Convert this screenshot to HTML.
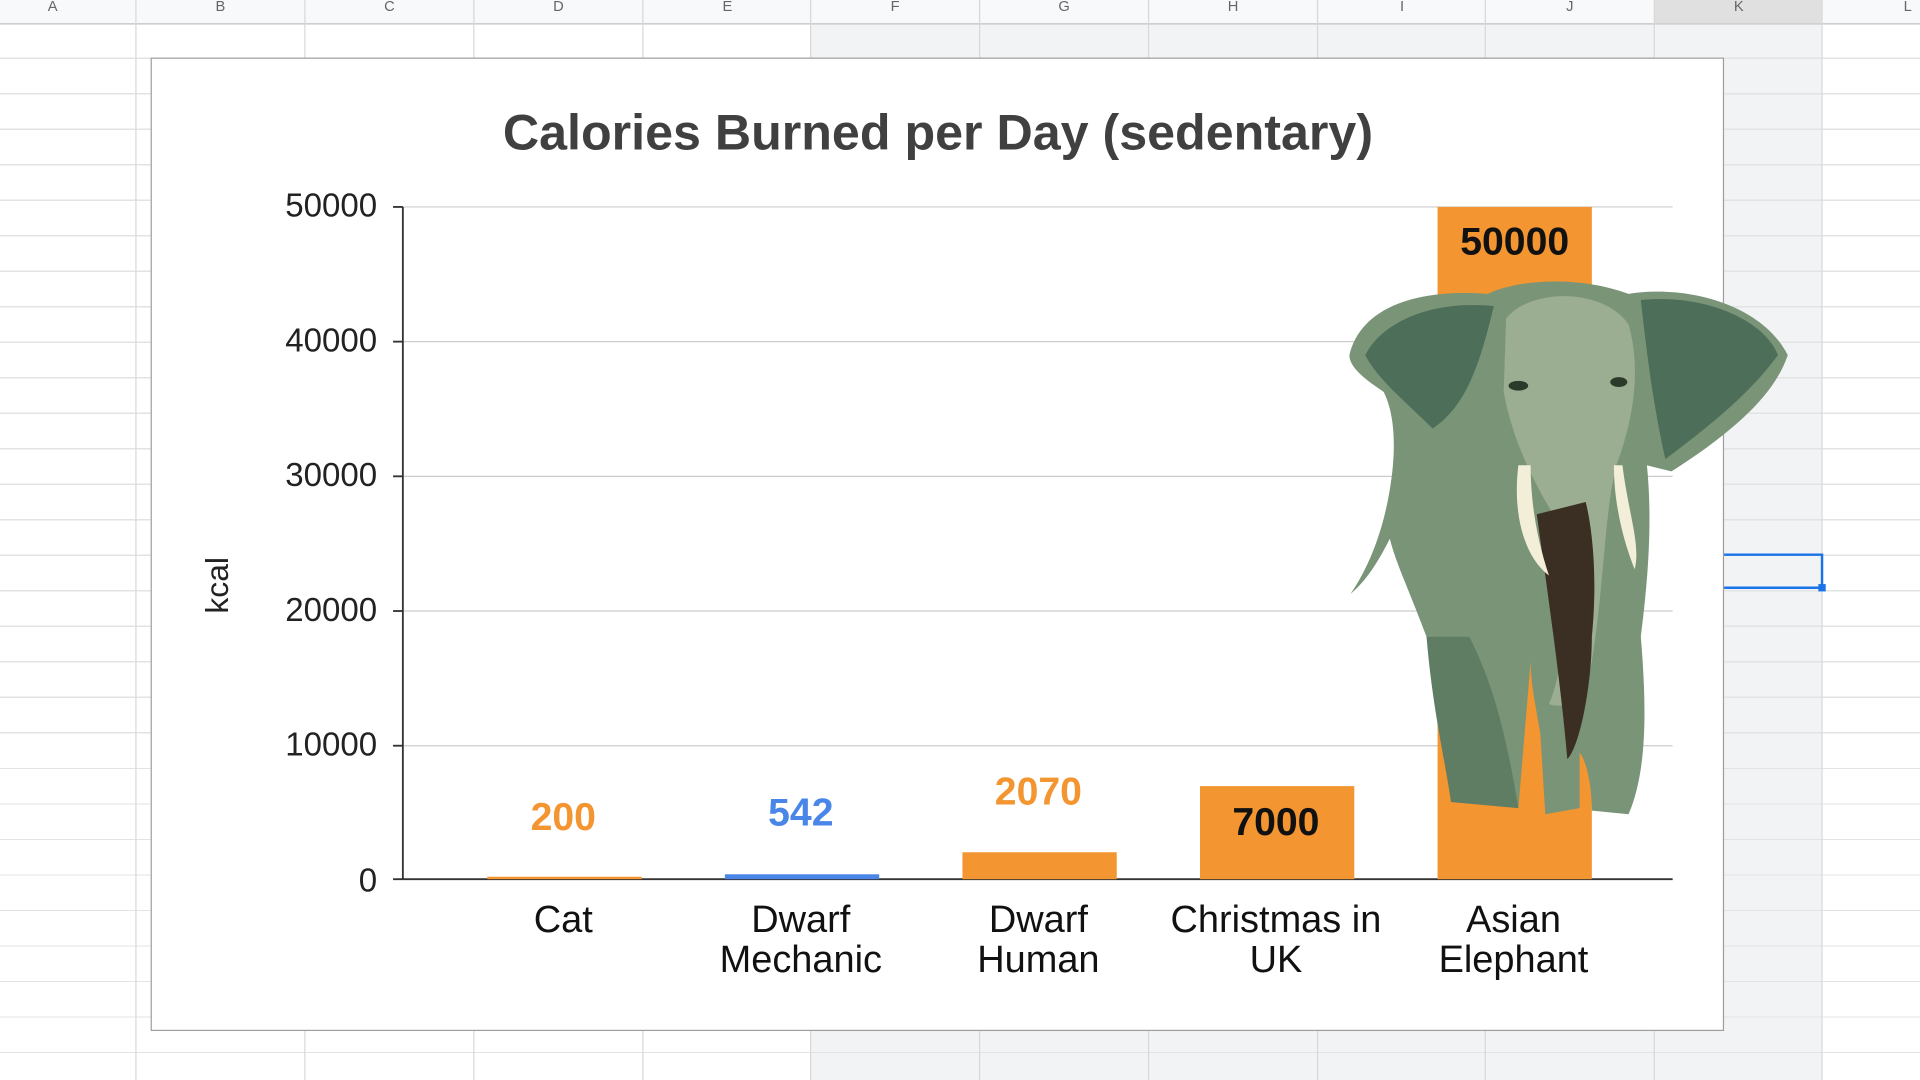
<!DOCTYPE html>
<html><head><meta charset="utf-8"><style>
html,body{margin:0;padding:0;width:1920px;height:1080px;overflow:hidden;background:#fff;font-family:"Liberation Sans",Arial,sans-serif;}
#w{position:absolute;left:0;top:0;width:1568px;height:882px;transform:scale(1.22449);transform-origin:0 0;}
.abs{position:absolute;}
</style></head><body><div id="w">
<div class="abs" style="left:662px;top:19px;width:826px;height:863px;background:#f1f3f4"></div>
<div class="abs" style="left:0;top:19px;width:1568px;height:863px;background:repeating-linear-gradient(to bottom,transparent 0,transparent 28px,#e2e3e3 28px,#e2e3e3 29px)"></div>
<div class="abs" style="left:0;top:0;width:1568px;height:19px;background:#f8f9fa;border-bottom:1px solid #c0c0c0"></div>
<div class="abs" style="left:1351px;top:0;width:137px;height:19px;background:#e0e0e0"></div>
<svg class="abs" style="left:0;top:0" width="1568" height="882">
<g stroke="#d8d8d8" stroke-width="1">
<line x1="111" y1="0" x2="111" y2="882"/><line x1="249" y1="0" x2="249" y2="882"/><line x1="387" y1="0" x2="387" y2="882"/><line x1="525" y1="0" x2="525" y2="882"/><line x1="662" y1="0" x2="662" y2="882"/><line x1="800" y1="0" x2="800" y2="882"/><line x1="938" y1="0" x2="938" y2="882"/><line x1="1076" y1="0" x2="1076" y2="882"/><line x1="1213" y1="0" x2="1213" y2="882"/><line x1="1351" y1="0" x2="1351" y2="882"/><line x1="1488" y1="0" x2="1488" y2="882"/>
</g>
<g font-size="12" fill="#666" text-anchor="middle" font-family="Liberation Sans">
<text x="43" y="9">A</text><text x="180" y="9">B</text><text x="318" y="9">C</text><text x="456" y="9">D</text><text x="594" y="9">E</text><text x="731" y="9">F</text><text x="869" y="9">G</text><text x="1007" y="9">H</text><text x="1145" y="9">I</text><text x="1282" y="9">J</text><text x="1420" y="9">K</text><text x="1558" y="9">L</text>
</g>
<path d="M1407 453 H1488 V480 H1407" fill="none" stroke="#1a73e8" stroke-width="2"/>
<rect x="1485" y="477" width="6" height="6" fill="#1a73e8"/>
</svg>
<div class="abs" style="left:123px;top:47px;width:1283px;height:793px;background:#fff;border:1px solid #9e9e9e"></div>
<svg class="abs" style="left:0;top:0" width="1568" height="882" font-family="Liberation Sans">
<text x="766" y="122" text-anchor="middle" font-size="41" font-weight="bold" fill="#404040">Calories Burned per Day (sedentary)</text>
<g stroke="#ccc" stroke-width="1">
<line x1="329" y1="169" x2="1366" y2="169"/><line x1="329" y1="279" x2="1366" y2="279"/><line x1="329" y1="389" x2="1366" y2="389"/><line x1="329" y1="499" x2="1366" y2="499"/><line x1="329" y1="609" x2="1366" y2="609"/>
</g>
<g stroke="#333" stroke-width="1.5">
<line x1="329" y1="169" x2="329" y2="718"/><line x1="321" y1="718" x2="1366" y2="718"/>
<line x1="321" y1="169" x2="329" y2="169"/><line x1="321" y1="279" x2="329" y2="279"/><line x1="321" y1="389" x2="329" y2="389"/><line x1="321" y1="499" x2="329" y2="499"/><line x1="321" y1="609" x2="329" y2="609"/>
</g>
<g font-size="27" fill="#222" text-anchor="end">
<text x="308" y="177">50000</text><text x="308" y="287">40000</text><text x="308" y="397">30000</text><text x="308" y="507">20000</text><text x="308" y="617">10000</text><text x="308" y="728">0</text>
</g>
<text transform="translate(186,478) rotate(-90)" text-anchor="middle" font-size="26" fill="#222">kcal</text>
<rect x="398" y="716" width="126" height="2" fill="#f39530"/>
<rect x="592" y="714" width="126" height="4" fill="#4a86e8"/>
<rect x="786" y="696" width="126" height="22" fill="#f39530"/>
<rect x="980" y="642" width="126" height="76" fill="#f39530"/>
<rect x="1174" y="169" width="126" height="549" fill="#f39530"/>
<g font-size="32" font-weight="bold" text-anchor="middle">
<text x="460" y="678" fill="#f39530">200</text>
<text x="654" y="674" fill="#4a86e8">542</text>
<text x="848" y="657" fill="#f39530">2070</text>
<text x="1042" y="682" fill="#111">7000</text>
<text x="1237" y="208" fill="#111">50000</text>
</g>
<g font-size="31" fill="#111" text-anchor="middle">
<text x="460" y="761">Cat</text>
<text x="654" y="761">Dwarf</text><text x="654" y="794">Mechanic</text>
<text x="848" y="761">Dwarf</text><text x="848" y="794">Human</text>
<text x="1042" y="761">Christmas in</text><text x="1042" y="794">UK</text>
<text x="1236" y="761">Asian</text><text x="1236" y="794">Elephant</text>
</g>
<g>
<path d="M1102 290 C1110 255 1150 235 1215 240 C1240 228 1290 225 1330 240 C1380 232 1440 250 1460 290 C1450 320 1420 350 1365 385 L1345 380 C1350 430 1345 480 1340 520 C1345 580 1345 630 1330 665 L1300 662 C1300 640 1295 620 1290 615 L1290 660 L1262 665 L1258 600 C1255 580 1250 560 1250 540 L1245 600 L1240 660 L1185 655 C1180 600 1175 560 1165 520 C1150 480 1140 460 1135 440 C1125 460 1115 475 1103 485 C1120 460 1130 430 1135 400 C1140 370 1140 340 1130 320 C1115 310 1102 300 1102 290 Z" fill="#7a9478"/>
<path d="M1115 290 C1130 260 1175 245 1220 250 C1210 290 1200 330 1170 350 C1150 330 1125 310 1115 290 Z" fill="#4d6e58"/>
<path d="M1340 245 C1390 240 1440 260 1452 290 C1430 320 1400 345 1360 375 C1350 330 1345 290 1340 245 Z" fill="#4d6e58"/>
<path d="M1230 260 C1250 235 1310 235 1330 265 C1340 300 1335 340 1320 380 C1310 420 1310 480 1300 540 C1295 570 1280 580 1265 575 C1280 540 1280 480 1275 430 C1255 400 1235 360 1228 320 Z" fill="#9bae92"/>
<path d="M1255 420 C1262 470 1275 560 1280 620 C1290 610 1300 560 1300 520 C1305 470 1300 430 1295 410 Z" fill="#3b2e22"/>
<path d="M1240 380 C1235 420 1245 455 1265 470 C1255 440 1250 410 1250 380 Z" fill="#f3eed8"/>
<path d="M1325 380 C1330 420 1340 445 1335 465 C1325 440 1318 410 1318 380 Z" fill="#f3eed8"/>
<path d="M1165 520 C1170 580 1180 620 1185 655 L1240 660 C1230 600 1220 560 1200 520 Z" fill="#5f7d63"/>
<ellipse cx="1240" cy="315" rx="8" ry="4" fill="#2c3a2a"/><ellipse cx="1322" cy="312" rx="7" ry="4" fill="#2c3a2a"/>
</g>
</svg>
</div></body></html>
